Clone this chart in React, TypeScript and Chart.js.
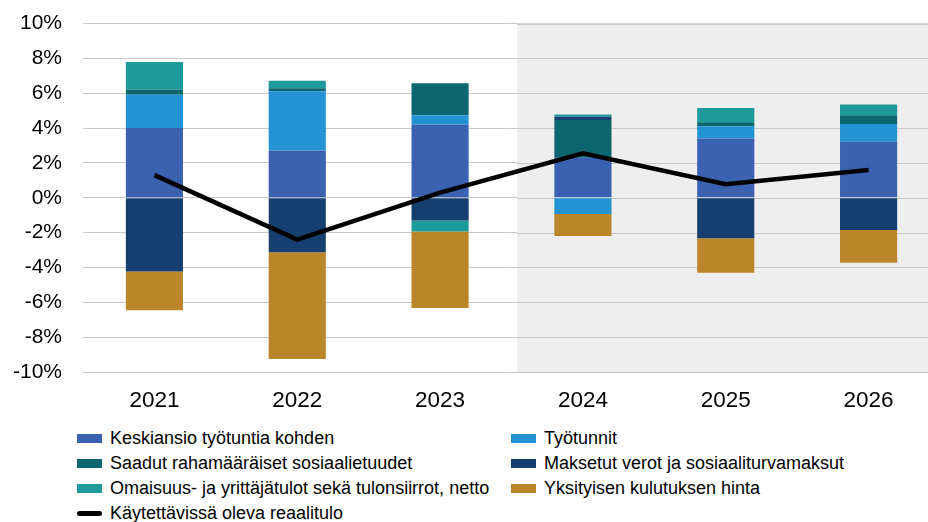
import React, { useEffect, useRef } from "react";
import { Chart, registerables } from "chart.js";

Chart.register(...registerables);

const years = ["2021", "2022", "2023", "2024", "2025", "2026"];
const keskiansio = [4.0, 2.72, 4.21, 2.3, 3.41, 3.22];
const tyotunnit = [1.92, 3.39, 0.53, -0.93, 0.7, 1.01];
const saadut = [0.29, 0.18, 1.83, 2.16, 0.23, 0.51];
const maksetut = [-4.23, -3.12, -1.31, 0.19, -2.32, -1.85];
const omaisuus = [1.58, 0.43, -0.63, 0.13, 0.82, 0.61];
const hinta = [-2.23, -6.14, -4.38, -1.26, -1.98, -1.88];
const reaalitulo = [1.3, -2.4, 0.3, 2.55, 0.78, 1.6];
const forecastStart = 2.54; // category position where shaded forecast area starts

const FONT = "'Liberation Sans', Arial, sans-serif";

const barSeries = [
  { label: "Keskiansio työtuntia kohden", data: keskiansio, color: "#3A62B0" },
  { label: "Työtunnit", data: tyotunnit, color: "#2393D3" },
  { label: "Saadut rahamääräiset sosiaalietuudet", data: saadut, color: "#0C6670" },
  { label: "Maksetut verot ja sosiaaliturvamaksut", data: maksetut, color: "#153F6F" },
  { label: "Omaisuus- ja yrittäjätulot sekä tulonsiirrot, netto", data: omaisuus, color: "#1F9A9B" },
  { label: "Yksityisen kulutuksen hinta", data: hinta, color: "#BB8629" },
];
const lineLabel = "Käytettävissä oleva reaalitulo";

const shadePlugin = {
  id: "shade",
  beforeDatasetsDraw(chart: any) {
    const { ctx, chartArea, scales } = chart;
    const x0 = scales.x.getPixelForValue(forecastStart);
    ctx.save();
    ctx.fillStyle = "#EDEEED";
    ctx.fillRect(x0, chartArea.top, chartArea.right - x0, chartArea.bottom - chartArea.top);
    ctx.strokeStyle = "#C8C8C8";
    ctx.lineWidth = 1;
    scales.y.ticks.forEach((t: any) => {
      const y = Math.round(scales.y.getPixelForValue(t.value)) + 0.5;
      ctx.beginPath();
      ctx.moveTo(x0, y);
      ctx.lineTo(chartArea.right, y);
      ctx.stroke();
    });
    ctx.restore();
  },
};

export default function App() {
  const ref = useRef<HTMLCanvasElement>(null);
  useEffect(() => {
    if (!ref.current) return;
    const chart = new Chart(ref.current, {
      type: "bar",
      data: {
        labels: years,
        datasets: [
          {
            type: "line",
            label: lineLabel,
            data: reaalitulo,
            borderColor: "#000000",
            backgroundColor: "#000000",
            borderWidth: 4.5,
            pointRadius: 0,
            stack: "line",
            order: 0,
            tension: 0,
          } as any,
          ...barSeries.map((s) => ({
            type: "bar" as const,
            label: s.label,
            data: s.data,
            backgroundColor: s.color,
            borderWidth: 0,
            stack: "bars",
            order: 1,
            barPercentage: 0.4,
            categoryPercentage: 1,
          })),
        ],
      },
      options: {
        animation: false,
        responsive: false,
        maintainAspectRatio: false,
        layout: { padding: { top: 12, left: 0, right: 0, bottom: 0 } },
        plugins: { legend: { display: false }, tooltip: { enabled: false } },
        scales: {
          x: {
            stacked: true,
            grid: { display: false, drawTicks: false },
            border: { display: false },
            ticks: { color: "#000", font: { family: FONT, size: 22.5 }, padding: 15 },
            afterFit: (s: any) => {
              s.height = 48;
            },
          },
          y: {
            stacked: true,
            min: -10,
            max: 10,
            grid: { color: "#C8C8C8", drawTicks: false, lineWidth: 1 },
            border: { display: false },
            ticks: {
              stepSize: 2,
              color: "#000",
              font: { family: FONT, size: 21 },
              padding: 21,
              callback: (v: any) => `${v}%`,
            },
            afterFit: (s: any) => {
              s.width = 83;
            },
          },
        },
      },
      plugins: [shadePlugin],
    });
    return () => chart.destroy();
  }, []);

  const legendItems = [
    ...barSeries.map((s) => ({ label: s.label, color: s.color, line: false })),
    { label: lineLabel, color: "#000", line: true },
  ];

  return (
    <div
      style={{
        position: "fixed",
        left: 0,
        top: 0,
        width: 928,
        height: 522,
        overflow: "hidden",
        background: "#fff",
        fontFamily: FONT,
      }}
    >
      <canvas ref={ref} width={940} height={430} style={{ position: "absolute", left: 0, top: -10, width: 940, height: 430 }} />
      {legendItems.map((it, i) => {
        const col = i % 2;
        const row = Math.floor(i / 2);
        const left = col === 0 ? 77 : 511;
        const top = 438 + row * 25;
        return (
          <div
            key={it.label}
            style={{ position: "absolute", left, top: top - 12, height: 24, display: "flex", alignItems: "center", whiteSpace: "nowrap" }}
          >
            <span
              style={{
                display: "inline-block",
                width: 25,
                height: it.line ? 5 : 9,
                borderRadius: it.line ? 3 : 0,
                background: it.color,
                marginRight: 8,
              }}
            />
            <span style={{ fontSize: 18, color: "#000", lineHeight: "24px" }}>{it.label}</span>
          </div>
        );
      })}
    </div>
  );
}
